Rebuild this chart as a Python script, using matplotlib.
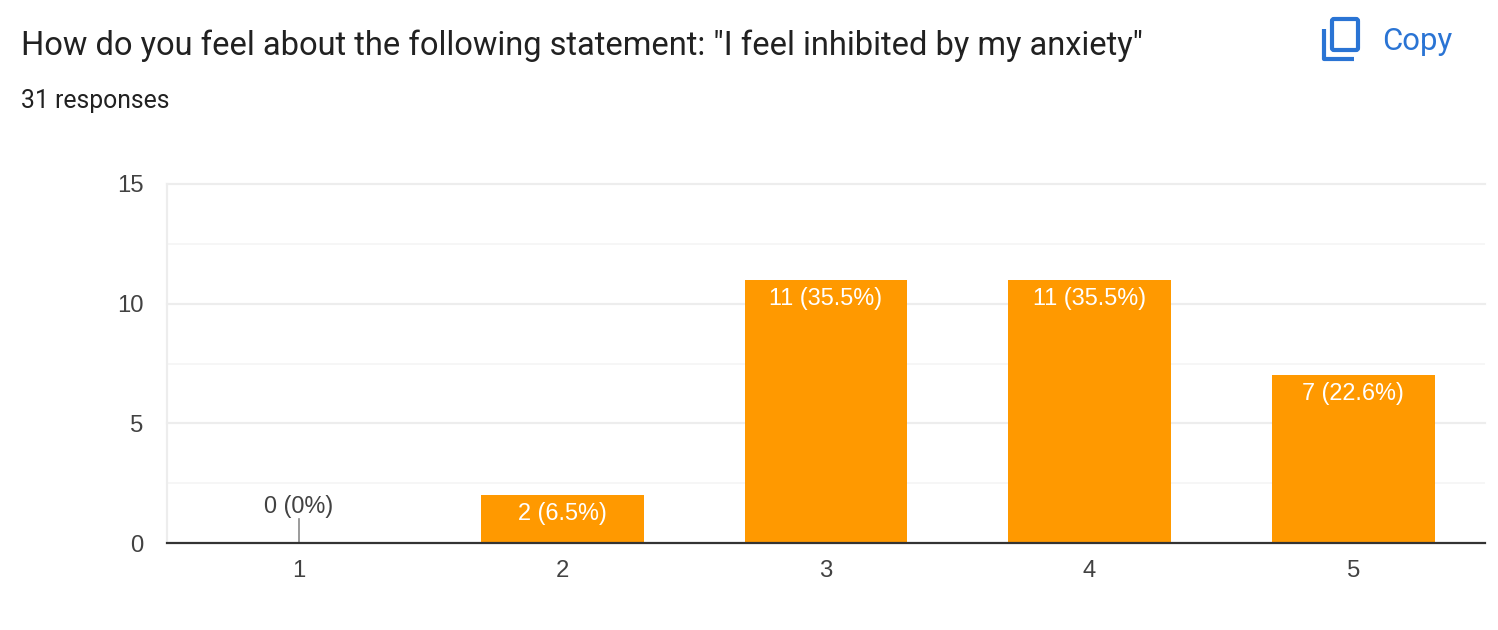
#!/usr/bin/env python3
# -*- coding: utf-8 -*-
"""Survey response bar chart with the forms-style header."""

import matplotlib
matplotlib.use('Agg')
import matplotlib.pyplot as plt
from matplotlib.patches import FancyBboxPatch

# Data
categories = ['1', '2', '3', '4', '5']
counts = [0, 2, 11, 11, 7]
bar_labels = ['0 (0%)', '2 (6.5%)', '11 (35.5%)', '11 (35.5%)', '7 (22.6%)']
y_ticks = [0, 5, 10, 15]
y_minor = [2.5, 7.5, 12.5]

title = 'How do you feel about the following statement: "I feel inhibited by my anxiety"'
subtitle = '31 responses'

W, H = 1498, 630
BAR_COLOR = '#ff9900'
BLUE = '#2a74d4'
TEXT = '#212121'
LABEL = '#424242'
ARIAL = ['Liberation Sans', 'DejaVu Sans']

fig = plt.figure(figsize=(W / 100, H / 100), dpi=100, facecolor='white')

# Overlay in pixel coordinates for the header
bg = fig.add_axes([0, 0, 1, 1])
bg.set_xlim(0, W)
bg.set_ylim(H, 0)
bg.axis('off')

bg.text(21, 46, title, fontsize=23.5, family='Roboto', color=TEXT, va='center', ha='left')
bg.text(21, 101, subtitle, fontsize=17.8, family='Roboto', color=TEXT, va='center', ha='left')
bg.text(1382, 41, 'Copy', fontsize=22.4, family='Roboto', color=BLUE, va='center', ha='left')

# Copy icon
bg.add_patch(FancyBboxPatch((1332, 19), 26, 31, boxstyle='round,pad=0,rounding_size=2',
                            facecolor='none', edgecolor=BLUE, linewidth=3))
bg.plot([1324, 1324, 1354], [29, 59, 59], color=BLUE, linewidth=3,
        solid_capstyle='butt', solid_joinstyle='round')

# Chart
left, right, top, bottom = 167, 1485, 184, 543
ax = fig.add_axes([left / W, 1 - bottom / H, (right - left) / W, (bottom - top) / H])
ax.patch.set_alpha(0)
x = list(range(len(categories)))
ax.set_xlim(-0.5, len(categories) - 0.5)
ax.set_ylim(0, 15)

for v in y_ticks[1:]:
    ax.axhline(v, color='#ededed', linewidth=1.6, zorder=1, clip_on=False)
for v in y_minor:
    ax.axhline(v, color='#f5f5f5', linewidth=1.2, zorder=1)

ax.bar(x, counts, width=0.617, color=BAR_COLOR, zorder=2)

for i, (c, lab) in enumerate(zip(counts, bar_labels)):
    if c == 0:
        # zero bars get an outside label with a leader line
        ax.plot([i, i], [0, 1], color='#8a8a8a', linewidth=1.2, zorder=3)
        ax.annotate(lab, (i, 1), xytext=(0, 1), textcoords='offset points', ha='center',
                    va='bottom', fontsize=16.9, family=ARIAL, color=LABEL)
    else:
        ax.annotate(lab, (i, c), xytext=(0, -5), textcoords='offset points', ha='center',
                    va='top', fontsize=16.9, family=ARIAL, color='white', zorder=4)

for side in ['top', 'right']:
    ax.spines[side].set_visible(False)
ax.spines['left'].set_color('#ededed')
ax.spines['left'].set_linewidth(1.6)
ax.spines['bottom'].set_color('#333333')
ax.spines['bottom'].set_linewidth(1.6)
ax.spines['bottom'].set_zorder(5)

ax.set_xticks(x)
ax.set_xticklabels(categories)
ax.set_yticks(y_ticks)
ax.tick_params(axis='both', length=0, labelsize=17.2, labelcolor=LABEL)
ax.tick_params(axis='x', pad=12)
ax.tick_params(axis='y', pad=17)
for t in ax.get_xticklabels() + ax.get_yticklabels():
    t.set_family(ARIAL)

fig.savefig('out.png', dpi=100, facecolor='white')
